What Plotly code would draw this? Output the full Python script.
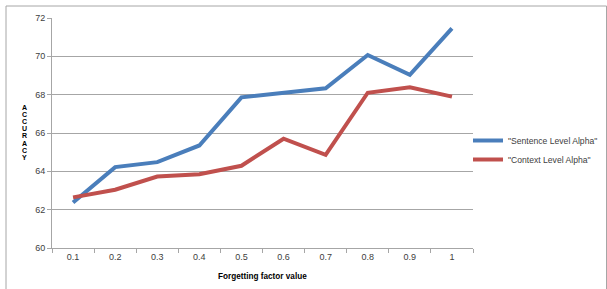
import plotly.graph_objects as go

categories = ["0.1", "0.2", "0.3", "0.4", "0.5", "0.6", "0.7", "0.8", "0.9", "1"]
sentence_level = [62.37, 64.22, 64.48, 65.35, 67.86, 68.07, 68.33, 70.07, 69.03, 71.46]
context_level = [62.64, 63.04, 63.73, 63.85, 64.29, 65.70, 64.86, 68.10, 68.39, 67.90]
y_ticks = [60, 62, 64, 66, 68, 70, 72]
series_names = ['"Sentence Level Alpha"', '"Context Level Alpha"']
x_title = "Forgetting factor value"
y_title = "ACCURACY"

FONT = "Liberation Sans Narrow, Liberation Sans, sans-serif"
GRID = "#a6a6a6"

fig = go.Figure()
fig.add_trace(go.Scatter(x=categories, y=sentence_level, mode="lines", name=series_names[0],
                         line=dict(color="#4a7ebb", width=4)))
fig.add_trace(go.Scatter(x=categories, y=context_level, mode="lines", name=series_names[1],
                         line=dict(color="#c0504d", width=4)))

W, H = 607, 289
L, R, T, B = 52, 134, 18, 41
pw, ph = W - L - R, H - T - B

def px_x(x):
    return (x - L) / pw

def px_y(y):
    return (H - B - y) / ph

annotations = [
    dict(text="<b>%s</b>" % x_title, x=0.5, y=px_y(276), xref="paper", yref="paper", showarrow=False,
         font=dict(family=FONT, size=8.2, color="#000000"), xanchor="center", yanchor="middle"),
]
for i, ch in enumerate(y_title):
    annotations.append(dict(text="<b>%s</b>" % ch, x=px_x(25), y=px_y(107.5 + i * 7.1),
                            xref="paper", yref="paper", showarrow=False,
                            font=dict(family=FONT, size=7, color="#000000"),
                            xanchor="center", yanchor="middle"))

fig.update_layout(
    width=W, height=H,
    margin=dict(l=L, r=R, t=T, b=B, pad=0, autoexpand=False),
    paper_bgcolor="white", plot_bgcolor="white",
    font=dict(family=FONT, size=9, color="#404040"),
    showlegend=True,
    legend=dict(x=px_x(468), y=px_y(126), xanchor="left", yanchor="top",
                font=dict(family=FONT, size=8.6, color="#404040"),
                bgcolor="rgba(0,0,0,0)", itemwidth=30, tracegroupgap=0),
    xaxis=dict(type="category", range=[-0.5, 9.5], showgrid=False,
               showline=True, linecolor=GRID, linewidth=1,
               ticks="outside", tickson="boundaries", ticklen=4, tickcolor=GRID,
               tickfont=dict(family=FONT, size=9, color="#404040"), fixedrange=True),
    yaxis=dict(range=[60, 72], tickvals=y_ticks, showgrid=True, gridcolor=GRID, gridwidth=1,
               showline=True, linecolor=GRID, linewidth=1, zeroline=False,
               ticks="outside", ticklen=4, tickcolor=GRID,
               tickfont=dict(family=FONT, size=9, color="#404040"), fixedrange=True),
    annotations=annotations,
    shapes=[dict(type="rect", xref="paper", yref="paper",
                 x0=px_x(6), x1=px_x(606.5), y0=px_y(300), y1=px_y(6),
                 line=dict(color="#a6a6a6", width=1), fillcolor="rgba(0,0,0,0)", layer="below")],
)

fig.write_html("out.html", config={"displayModeBar": False},
               post_script="document.body.style.margin='0';document.body.style.padding='0';")
